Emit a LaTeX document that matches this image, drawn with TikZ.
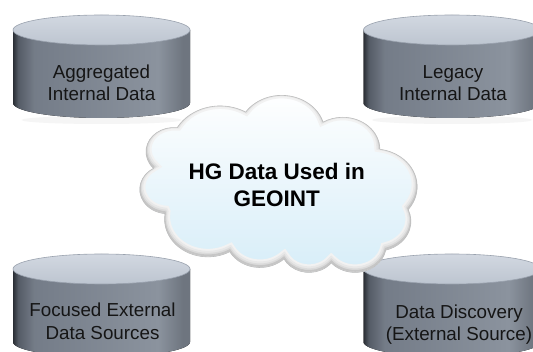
\documentclass[tikz,border=0pt]{standalone}
\usepackage{fontspec}
\setmainfont{Liberation Sans}
\definecolor{cylTopA}{HTML}{D2D8E1}
\definecolor{cylTopB}{HTML}{BDC5D0}
\definecolor{cylRim}{HTML}{9AA2AE}
\definecolor{sideA}{HTML}{2A2E34}
\definecolor{sideB}{HTML}{555C66}
\definecolor{sideC}{HTML}{747C88}
\definecolor{sideD}{HTML}{8B939E}
\definecolor{sideE}{HTML}{6E757F}
\definecolor{cloudM}{HTML}{E4F4FC}
\definecolor{cloudB}{HTML}{D6EDF8}
\definecolor{labelText}{HTML}{151515}
\pgfdeclarehorizontalshading{cylside}{100bp}{color(0bp)=(sideA); color(25bp)=(sideA); color(26.5bp)=(sideB); color(31bp)=(sideC); color(66bp)=(sideD); color(73bp)=(sideE); color(75bp)=(sideE); color(100bp)=(sideE)}
\newcommand\lnstrut{\rule[-0.21em]{0pt}{0.9em}}
\newcommand\cloudpath{(39.00,143.70)
  arc[start angle=172.26, end angle=300.36, x radius=67.53, y radius=91.90]
  arc[start angle=-152.02, end angle=-45.45, x radius=53.33, y radius=72.67]
  arc[start angle=-153.48, end angle=-37.33, x radius=43.65, y radius=59.45]
  arc[start angle=-139.73, end angle=-10.22, x radius=48.57, y radius=65.95]
  arc[start angle=-74.77, end angle=23.21, x radius=53.33, y radius=72.73]
  arc[start angle=-37.52, end angle=81.86, x radius=67.75, y radius=92.20]
  arc[start angle=0.46, end angle=121.98, x radius=57.85, y radius=78.67]
  arc[start angle=16.85, end angle=146.21, x radius=67.52, y radius=92.15]
  arc[start angle=58.98, end angle=150.2, x radius=77.20, y radius=105.43]
  arc[start angle=83.31, end angle=223.12, x radius=43.60, y radius=59.18]
  arc[start angle=120.36, end angle=264.11, x radius=43.45, y radius=59.45]
  -- cycle}
% #1 centre x, #2 top ellipse centre y
\newcommand\dbcyl[2]{%
  \fill[shading=cylside] (#1-88.5,#2) -- (#1-88.5,#2+73)
    arc[start angle=180, end angle=0, x radius=88.5, y radius=15]
    -- (#1+88.5,#2) -- cycle;
  \draw[cylRim, line width=0.6pt, top color=cylTopA, bottom color=cylTopB]
    (#1,#2) ellipse[x radius=88.5, y radius=15];
}
\tikzset{
  cyllabel/.style={font=\fontsize{18.8}{22.3}\selectfont, align=center, inner sep=0pt, text=labelText},
  hublabel/.style={font=\fontsize{22.5}{26.5}\selectfont\bfseries, align=center, inner sep=0pt, text=black}
}
\begin{document}
\begin{tikzpicture}[x=1pt, y=-1pt]
\useasboundingbox (0,0) rectangle (533,352);
\fill[white] (0,0) rectangle (533,352);
% soft reflections under the upper cylinders
\fill[gray!8] (101.5,120) ellipse[x radius=80, y radius=4];
\fill[gray!8] (452,120) ellipse[x radius=80, y radius=4];
% cylinders
\dbcyl{101.5}{30}
\dbcyl{452}{30}
\dbcyl{101.5}{269}
\dbcyl{452}{269}
% cloud (preset cloud outline, mirrored top to bottom)
\begin{scope}[shift={(140,273)}, x=0.6412pt, y=0.4097pt]
  \shade[top color=white, middle color=cloudM, bottom color=cloudB] \cloudpath;
  \begin{scope}
    \clip \cloudpath;
    \draw[gray!10, line width=11pt, yshift=2.5pt] \cloudpath;
    \draw[gray!18, line width=7pt, yshift=2.5pt] \cloudpath;
    \draw[gray!28, line width=4pt, yshift=2pt] \cloudpath;
    \draw[gray!45, line width=1.8pt, yshift=1.5pt] \cloudpath;
  \end{scope}
  \draw[gray!50, line width=0.6pt] \cloudpath;
\end{scope}
% labels
\node[cyllabel] (agg) at (101.5,84.7) {\lnstrut Aggregated\\\lnstrut Internal Data};
\node[cyllabel] (leg) at (453,84.7) {\lnstrut Legacy\\\lnstrut Internal Data};
\node[cyllabel] (foc) at (102.5,323.2) {\lnstrut Focused External\\\lnstrut Data Sources};
\node[cyllabel] (dis) at (459,324.5) {\lnstrut Data Discovery\\\lnstrut (External Source)};
\node[hublabel] (hub) at (276.7,187.2) {\lnstrut HG Data Used in\\\lnstrut GEOINT};
\end{tikzpicture}
\end{document}
